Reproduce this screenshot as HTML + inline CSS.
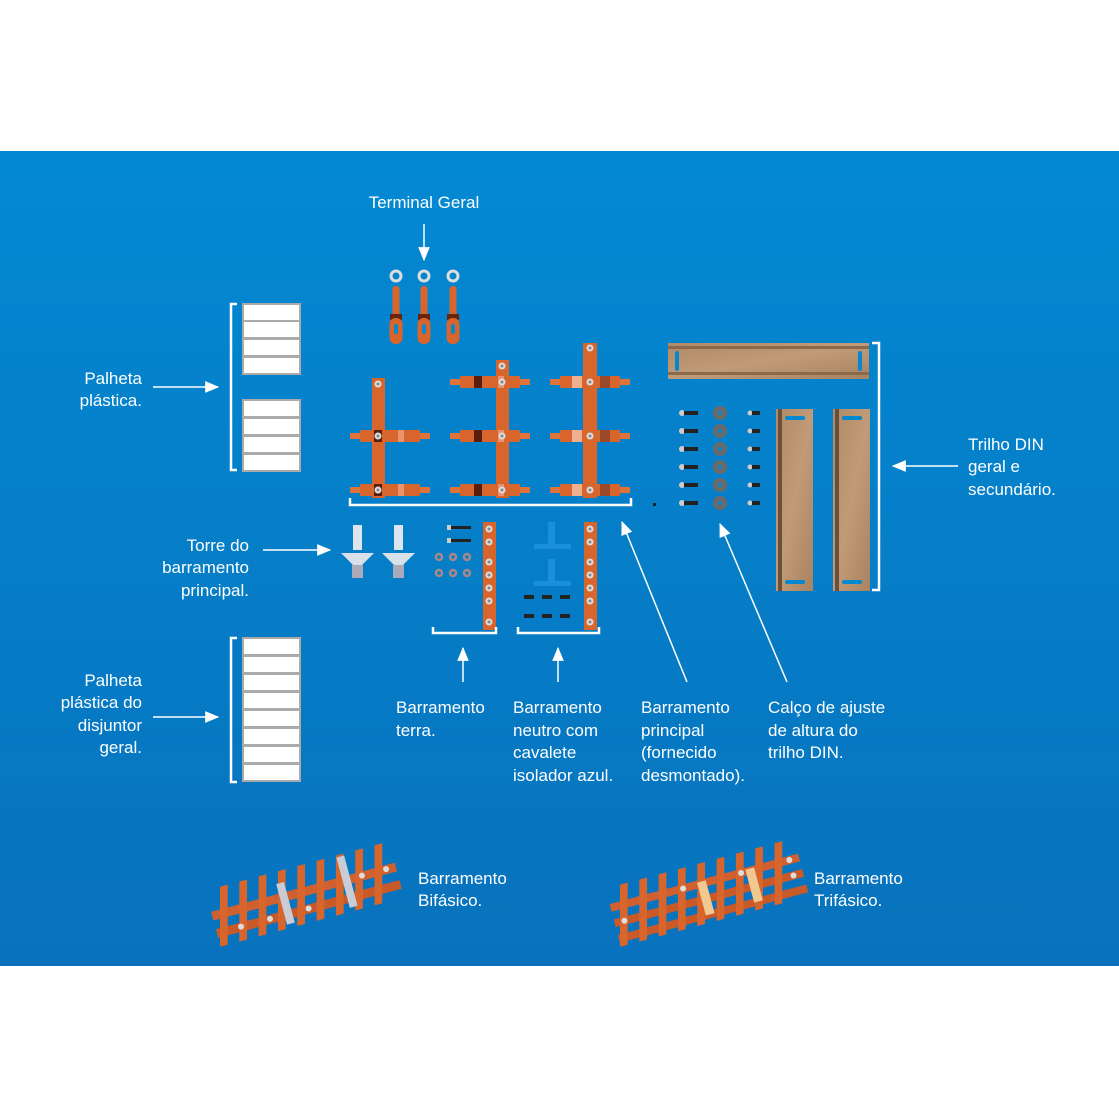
<!DOCTYPE html>
<html><head><meta charset="utf-8"><style>
html,body{margin:0;padding:0;background:#fff;}
svg{display:block;}
text{font-family:"Liberation Sans",sans-serif;font-size:17px;fill:#fff;}
</style></head><body>
<svg width="1119" height="1119" viewBox="0 0 1119 1119" xmlns="http://www.w3.org/2000/svg">
<defs>
<linearGradient id="bg" x1="0" y1="0" x2="0" y2="1"><stop offset="0" stop-color="#0389d2"/><stop offset="1" stop-color="#0872bd"/></linearGradient>
<linearGradient id="rail" x1="0" y1="0" x2="1" y2="1"><stop offset="0" stop-color="#b08a66"/><stop offset=".5" stop-color="#c19b77"/><stop offset="1" stop-color="#a9835f"/></linearGradient>
<marker id="ah" viewBox="0 0 12 10" refX="11" refY="5" markerWidth="14" markerHeight="12" markerUnits="userSpaceOnUse" orient="auto"><path d="M0,0 L12,5 L0,10 z" fill="#fff"/></marker>
<g id="hb">
<rect x="-40" y="-3" width="80" height="6" fill="#e0733a"/>
<rect x="-30" y="-6" width="60" height="12" fill="#d8652c"/>
<rect x="-16" y="-6" width="8" height="12" fill="#5a1e0c"/>
<rect x="8" y="-6" width="6" height="12" fill="#e8936c"/>
</g>
<g id="scr"><circle r="3.5" fill="#ddd"/><circle r="1.5" fill="#888"/></g>
<g id="term">
<circle cx="0" cy="0" r="5" fill="none" stroke="#ddd" stroke-width="3"/>
<rect x="-3.5" y="10" width="7" height="32" rx="3" fill="#d8652c"/>
<rect x="-6" y="38" width="12" height="6" fill="#6a240e"/>
<rect x="-6.5" y="42" width="13" height="26" rx="6" fill="#d8652c"/>
<rect x="-2" y="48" width="4" height="10" rx="2" fill="#0389d2"/>
</g>
<g id="pal"><rect x="0" y="0" width="57" height="17" fill="#fff" stroke="#aaa" stroke-width="2"/></g>
</defs>
<rect x="0" y="151" width="1119" height="815" fill="url(#bg)"/>

<text x="424" y="208" text-anchor="middle">Terminal Geral</text>
<line x1="424" y1="224" x2="424" y2="260" stroke="#fff" stroke-width="1.5" marker-end="url(#ah)"/>
<use href="#term" x="396" y="276"/><use href="#term" x="424" y="276"/><use href="#term" x="453" y="276"/>

<text x="142" y="384" text-anchor="end">Palheta</text>
<text x="142" y="406" text-anchor="end">plástica.</text>
<line x1="153" y1="387" x2="218" y2="387" stroke="#fff" stroke-width="1.5" marker-end="url(#ah)"/>
<path d="M237,304 H231 V470 H237" fill="none" stroke="#fff" stroke-width="2.5"/>
<use href="#pal" x="243" y="304"/><use href="#pal" x="243" y="321"/><use href="#pal" x="243" y="339"/><use href="#pal" x="243" y="357"/>
<use href="#pal" x="243" y="400"/><use href="#pal" x="243" y="418"/><use href="#pal" x="243" y="436"/><use href="#pal" x="243" y="454"/>

<rect x="372" y="378" width="13" height="120" fill="#d8652c"/>
<use href="#hb" x="390" y="436"/><use href="#hb" x="390" y="490"/>
<rect x="496" y="360" width="13" height="138" fill="#d8652c"/>
<use href="#hb" x="490" y="382"/><use href="#hb" x="490" y="436"/><use href="#hb" x="490" y="490"/>
<rect x="583" y="343" width="14" height="155" fill="#d8652c"/>
<rect x="550" y="379" width="80" height="6" fill="#e0733a"/><rect x="560" y="376" width="60" height="12" fill="#d8652c"/>
<rect x="550" y="433" width="80" height="6" fill="#e0733a"/><rect x="560" y="430" width="60" height="12" fill="#d8652c"/>
<rect x="550" y="487" width="80" height="6" fill="#e0733a"/><rect x="560" y="484" width="60" height="12" fill="#d8652c"/>
<g fill="#f0b090"><rect x="572" y="376" width="10" height="12"/><rect x="572" y="430" width="10" height="12"/><rect x="572" y="484" width="10" height="12"/></g>
<g fill="#9a4a2a"><rect x="600" y="376" width="10" height="12"/><rect x="600" y="430" width="10" height="12"/><rect x="600" y="484" width="10" height="12"/></g>
<use href="#scr" x="378" y="384"/><use href="#scr" x="378" y="436"/><use href="#scr" x="378" y="490"/>
<use href="#scr" x="502" y="366"/><use href="#scr" x="502" y="382"/><use href="#scr" x="502" y="436"/><use href="#scr" x="502" y="490"/>
<use href="#scr" x="590" y="348"/><use href="#scr" x="590" y="382"/><use href="#scr" x="590" y="436"/><use href="#scr" x="590" y="490"/>
<path d="M350,498 V505 H631 V498" fill="none" stroke="#fff" stroke-width="2.5"/>
<rect x="653" y="503" width="3" height="3" fill="#222"/>

<rect x="668" y="343" width="201" height="36" fill="url(#rail)"/>
<rect x="668" y="346" width="201" height="3" fill="#8a6a4a"/><rect x="668" y="372" width="201" height="3" fill="#8a6a4a"/>
<rect x="675" y="351" width="4" height="20" rx="2" fill="#0389d2"/><rect x="858" y="351" width="4" height="20" rx="2" fill="#0389d2"/>
<rect x="776" y="409" width="37" height="182" fill="url(#rail)"/><rect x="778" y="409" width="4" height="182" fill="#6a5038"/>
<rect x="833" y="409" width="37" height="182" fill="url(#rail)"/><rect x="835" y="409" width="4" height="182" fill="#6a5038"/>
<rect x="785" y="416" width="20" height="4" rx="2" fill="#0389d2"/><rect x="785" y="580" width="20" height="4" rx="2" fill="#0389d2"/>
<rect x="842" y="416" width="20" height="4" rx="2" fill="#0389d2"/><rect x="842" y="580" width="20" height="4" rx="2" fill="#0389d2"/>
<path d="M872,343 H879 V590 H872" fill="none" stroke="#fff" stroke-width="2.5"/>
<g id="srow">
<circle cx="682" cy="413" r="3" fill="#ccc"/><rect x="684" y="411" width="14" height="4" fill="#222"/>
<circle cx="720" cy="413" r="7" fill="#6a6a6a"/><circle cx="720" cy="413" r="2" fill="#0389d2"/>
<circle cx="750" cy="413" r="2.5" fill="#ccc"/><rect x="752" y="411" width="8" height="4" fill="#222"/>
</g>
<use href="#srow" y="18"/><use href="#srow" y="36"/><use href="#srow" y="54"/><use href="#srow" y="72"/><use href="#srow" y="90"/>
<text x="968" y="450">Trilho DIN</text><text x="968" y="472">geral e</text><text x="968" y="495">secundário.</text>
<line x1="958" y1="466" x2="893" y2="466" stroke="#fff" stroke-width="1.5" marker-end="url(#ah)"/>

<text x="249" y="551" text-anchor="end">Torre do</text><text x="249" y="573" text-anchor="end">barramento</text><text x="249" y="596" text-anchor="end">principal.</text>
<line x1="263" y1="550" x2="330" y2="550" stroke="#fff" stroke-width="1.5" marker-end="url(#ah)"/>
<g id="tw"><rect x="353" y="525" width="9" height="25" fill="#dde4ee"/><path d="M341,553 H374 L362,565 H353 z" fill="#d8e0ea"/><rect x="352" y="565" width="11" height="13" fill="#aab"/></g>
<use href="#tw" x="41"/>

<rect x="447" y="525" width="4" height="5" fill="#ccc"/><rect x="451" y="526" width="20" height="3" fill="#222"/>
<rect x="447" y="538" width="4" height="5" fill="#ccc"/><rect x="451" y="539" width="20" height="3" fill="#222"/>
<g fill="none" stroke="#a88" stroke-width="2.5"><circle cx="439" cy="557" r="3"/><circle cx="453" cy="557" r="3"/><circle cx="467" cy="557" r="3"/><circle cx="439" cy="573" r="3"/><circle cx="453" cy="573" r="3"/><circle cx="467" cy="573" r="3"/></g>
<rect x="483" y="522" width="13" height="108" fill="#d8652c"/>
<g id="vs"><use href="#scr" x="489" y="529"/><use href="#scr" x="489" y="542"/><use href="#scr" x="489" y="562"/><use href="#scr" x="489" y="575"/><use href="#scr" x="489" y="588"/><use href="#scr" x="489" y="601"/><use href="#scr" x="489" y="622"/></g>
<path d="M433,627 V633 H496 V627" fill="none" stroke="#fff" stroke-width="2.5"/>

<path d="M548,522 h7 v22 h16 v5 h-37 v-5 h14 z" fill="#1a8fdc"/>
<path d="M548,559 h7 v22 h16 v5 h-37 v-5 h14 z" fill="#1a8fdc"/>
<g fill="#222"><rect x="524" y="595" width="10" height="4"/><rect x="542" y="595" width="10" height="4"/><rect x="560" y="595" width="10" height="4"/><rect x="524" y="614" width="10" height="4"/><rect x="542" y="614" width="10" height="4"/><rect x="560" y="614" width="10" height="4"/></g>
<rect x="584" y="522" width="13" height="108" fill="#d8652c"/>
<use href="#vs" x="101"/>
<path d="M518,627 V633 H599 V627" fill="none" stroke="#fff" stroke-width="2.5"/>

<line x1="463" y1="682" x2="463" y2="648" stroke="#fff" stroke-width="1.5" marker-end="url(#ah)"/>
<line x1="558" y1="682" x2="558" y2="648" stroke="#fff" stroke-width="1.5" marker-end="url(#ah)"/>
<line x1="687" y1="682" x2="622" y2="522" stroke="#fff" stroke-width="1.5" marker-end="url(#ah)"/>
<line x1="787" y1="682" x2="720" y2="524" stroke="#fff" stroke-width="1.5" marker-end="url(#ah)"/>

<text x="396" y="713">Barramento</text><text x="396" y="736">terra.</text>
<text x="513" y="713">Barramento</text><text x="513" y="736">neutro com</text><text x="513" y="758">cavalete</text><text x="513" y="781">isolador azul.</text>
<text x="641" y="713">Barramento</text><text x="641" y="736">principal</text><text x="641" y="758">(fornecido</text><text x="641" y="781">desmontado).</text>
<text x="768" y="713">Calço de ajuste</text><text x="768" y="736">de altura do</text><text x="768" y="758">trilho DIN.</text>

<text x="142" y="686" text-anchor="end">Palheta</text><text x="142" y="708" text-anchor="end">plástica do</text><text x="142" y="731" text-anchor="end">disjuntor</text><text x="142" y="753" text-anchor="end">geral.</text>
<line x1="153" y1="717" x2="218" y2="717" stroke="#fff" stroke-width="1.5" marker-end="url(#ah)"/>
<path d="M237,638 H231 V782 H237" fill="none" stroke="#fff" stroke-width="2.5"/>
<use href="#pal" x="243" y="638"/><use href="#pal" x="243" y="656"/><use href="#pal" x="243" y="674"/><use href="#pal" x="243" y="692"/><use href="#pal" x="243" y="710"/><use href="#pal" x="243" y="728"/><use href="#pal" x="243" y="746"/><use href="#pal" x="243" y="764"/>

<!-- Bifasico -->
<g transform="translate(305,895) rotate(-15)">
<rect x="-95" y="-8" width="190" height="9" fill="#d06030"/>
<rect x="-95" y="10" width="190" height="9" fill="#c85a2a"/>
<g fill="#d8652c"><rect x="-88" y="-30" width="8" height="58" transform="skewX(-15)"/><rect x="-68" y="-30" width="8" height="58" transform="skewX(-15)"/><rect x="-48" y="-30" width="8" height="58" transform="skewX(-15)"/><rect x="-28" y="-30" width="8" height="58" transform="skewX(-15)"/><rect x="-8" y="-30" width="8" height="58" transform="skewX(-15)"/><rect x="12" y="-30" width="8" height="58" transform="skewX(-15)"/><rect x="32" y="-30" width="8" height="58" transform="skewX(-15)"/><rect x="52" y="-30" width="8" height="58" transform="skewX(-15)"/><rect x="72" y="-30" width="8" height="58" transform="skewX(-15)"/></g>
<rect x="-25" y="-18" width="8" height="42" fill="#c8ccd6"/><rect x="40" y="-28" width="8" height="52" fill="#c8ccd6"/>
<g fill="#ddd"><circle cx="-70" cy="14" r="3"/><circle cx="-40" cy="14" r="3"/><circle cx="0" cy="14" r="3"/><circle cx="60" cy="-4" r="3"/><circle cx="85" cy="-4" r="3"/></g>
</g>
<text x="418" y="884">Barramento</text><text x="418" y="906">Bifásico.</text>

<!-- Trifasico -->
<g transform="translate(705,893) rotate(-15)">
<rect x="-95" y="-14" width="195" height="8" fill="#d06030"/>
<rect x="-95" y="2" width="195" height="8" fill="#c85a2a"/>
<rect x="-95" y="18" width="195" height="8" fill="#c85a2a"/>
<g fill="#d8652c"><rect x="-88" y="-30" width="8" height="60" transform="skewX(-15)"/><rect x="-68" y="-30" width="8" height="60" transform="skewX(-15)"/><rect x="-48" y="-30" width="8" height="60" transform="skewX(-15)"/><rect x="-28" y="-30" width="8" height="60" transform="skewX(-15)"/><rect x="-8" y="-30" width="8" height="60" transform="skewX(-15)"/><rect x="12" y="-30" width="8" height="60" transform="skewX(-15)"/><rect x="32" y="-30" width="8" height="60" transform="skewX(-15)"/><rect x="52" y="-30" width="8" height="60" transform="skewX(-15)"/><rect x="72" y="-30" width="8" height="60" transform="skewX(-15)"/></g>
<rect x="-5" y="-12" width="9" height="34" fill="#f0c890"/><rect x="45" y="-12" width="9" height="34" fill="#f0c890"/>
<g fill="#ddd"><circle cx="-85" cy="6" r="3"/><circle cx="-20" cy="-10" r="3"/><circle cx="40" cy="-10" r="3"/><circle cx="90" cy="-10" r="3"/><circle cx="90" cy="6" r="3"/></g>
</g>
<text x="814" y="884">Barramento</text><text x="814" y="906">Trifásico.</text>
</svg>
</body></html>
